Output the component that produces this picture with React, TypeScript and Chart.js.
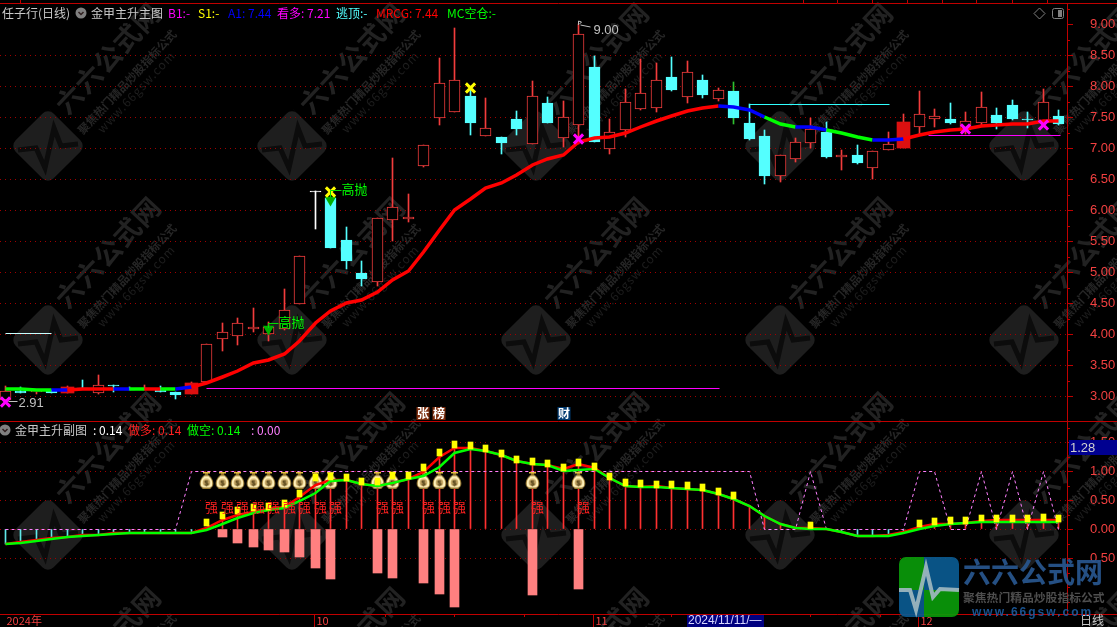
import React, { useEffect, useRef } from "react";
import { Chart, registerables } from "chart.js";

Chart.register(...registerables);

// ---- main pane data (index 0 .. 68) ----
const opens = [2.94,3.09,3.07,3.10,3.05,3.14,3.06,3.18,3.12,3.10,3.11,3.07,3.04,3.23,3.93,3.98,4.09,4.01,4.09,4.49,6.31,6.20,5.52,4.99,4.85,5.85,5.86,6.72,7.49,7.59,7.84,7.20,7.19,7.47,7.07,7.73,7.17,7.38,8.31,6.99,7.30,7.63,7.65,8.15,7.82,8.10,7.80,7.92,7.41,7.20,6.56,6.83,7.09,7.26,6.86,6.89,6.69,6.98,7.00,7.35,7.48,7.47,7.30,7.41,7.54,7.70,7.47,7.41,7.52];
const closes = [3.09,3.05,3.09,3.06,3.15,3.12,3.18,3.17,3.10,3.135,3.07,3.02,3.215,3.85,4.03,4.18,4.12,4.12,4.39,5.26,6.29,5.40,5.18,4.89,5.87,6.05,5.89,7.06,8.05,8.11,7.41,7.32,7.09,7.31,7.85,7.41,7.50,8.85,7.10,7.26,7.74,7.90,8.11,7.94,8.23,7.86,7.94,7.49,7.15,6.56,6.89,7.10,7.31,6.86,6.89,6.76,6.95,7.07,7.42,7.56,7.52,7.41,7.435,7.66,7.41,7.47,7.45,7.74,7.39];
const highs = [3.17,3.145,3.10,3.10,3.16,3.26,3.34,3.18,3.155,3.18,3.165,3.07,3.23,3.85,4.18,4.26,4.42,4.20,4.73,5.26,6.31,6.20,5.73,5.18,5.87,6.84,6.26,7.06,8.46,8.94,7.95,7.81,7.19,7.60,8.09,7.83,7.76,9.00,8.49,7.47,7.96,8.44,8.38,8.47,8.41,8.18,7.97,8.07,7.71,7.30,6.89,7.16,7.49,7.42,6.97,7.05,6.95,7.26,7.55,7.92,7.63,7.73,7.59,7.91,7.65,7.78,7.59,7.96,7.62];
const lows = [2.91,3.05,3.04,3.05,3.05,3.12,3.03,3.07,3.10,3.10,3.07,2.96,3.04,3.22,3.735,3.82,4.03,3.90,4.065,4.49,5.70,5.40,5.05,4.78,4.78,5.51,5.81,6.70,7.37,7.59,7.21,7.20,6.91,7.21,7.07,7.41,7.02,7.07,7.10,6.91,7.18,7.62,7.58,7.92,7.73,7.81,7.76,7.39,7.13,6.43,6.46,6.78,7.01,6.84,6.65,6.75,6.50,6.98,7.00,7.21,7.34,7.39,7.23,7.38,7.31,7.45,7.33,7.36,7.38];
const filledRedIdx = [4, 12, 58];
const whiteIdx = [20];
const greenWickIdx = [47];

const maValues = [3.12,3.115,3.11,3.11,3.11,3.115,3.12,3.12,3.125,3.125,3.12,3.12,3.15,3.21,3.31,3.41,3.53,3.585,3.69,3.89,4.19,4.38,4.50,4.55,4.69,4.875,5.02,5.33,5.68,6.00,6.19,6.355,6.445,6.565,6.73,6.82,6.90,7.11,7.16,7.18,7.25,7.35,7.445,7.52,7.61,7.65,7.68,7.665,7.62,7.50,7.40,7.35,7.35,7.29,7.24,7.19,7.13,7.135,7.15,7.22,7.26,7.295,7.31,7.355,7.37,7.39,7.39,7.44,7.435];
// colour key of the segment leaving each index: r red, g green, b blue
const maSegments = "gggbrrrbgrgbrrrrrrrrrrrrrrrrrrrrrrrrrrrrrrrrrrbbbggbbgggbbrrrrrrrrrrr";

const magentaLines = [{ from: 13, to: 46.1, value: 3.13 }, { from: 59.6, to: 68.1, value: 7.21 }];
const cyanLines = [{ from: 48, to: 57.05, value: 7.71 }];
const paleLines = [{ from: 0, to: 3, value: 4.016 }];
const magentaCrosses = [{ x: 0, y: 2.91 }, { x: 37, y: 7.15 }, { x: 62, y: 7.31 }, { x: 67, y: 7.38 }];
const yellowCrosses = [{ x: 21, y: 6.3 }, { x: 30, y: 7.97 }];
const greenArrows = [{ x: 17, y: 4.09 }, { x: 21, y: 6.17 }];
const highThrowLabels = [{ x: 17, y: 4.19, dx: 10, dy: 0, text: "高抛" }, { x: 21, y: 6.30, dx: 11, dy: -2, text: "高抛" }];
const priceTicks = [3, 3.5, 4, 4.5, 5, 5.5, 6, 6.5, 7, 7.5, 8, 8.5, 9];
const priceMinorTicks = [3.25, 3.75, 4.25, 4.75, 5.25, 5.75, 6.25, 6.75, 7.25, 7.75, 8.25, 8.75, 9.25];
const priceNoGrid = [9];

// ---- sub pane data ----
const longLine = [-0.245,-0.215,-0.18,-0.152,-0.125,-0.105,-0.09,-0.07,-0.06,-0.06,-0.06,-0.06,-0.06,0.02,0.16,0.245,0.305,0.345,0.38,0.55,0.76,0.85,0.85,0.78,0.75,0.79,0.86,0.995,1.24,1.40,1.40,1.35,1.275,1.17,1.125,1.10,1.045,1.12,1.06,0.88,0.75,0.735,0.74,0.72,0.70,0.68,0.60,0.53,0.41,0.23,0.09,0.02,0.015,0,-0.05,-0.11,-0.115,-0.105,-0.04,0.035,0.09,0.10,0.11,0.15,0.155,0.155,0.155,0.155,0.155];
const shortLine = [-0.26,-0.23,-0.195,-0.167,-0.138,-0.12,-0.10,-0.08,-0.063,-0.06,-0.06,-0.06,-0.06,-0.005,0.10,0.20,0.275,0.33,0.36,0.49,0.63,0.83,0.85,0.78,0.75,0.79,0.86,0.92,1.08,1.31,1.385,1.35,1.275,1.17,1.125,1.10,1.01,1.02,1.045,0.88,0.75,0.735,0.735,0.72,0.69,0.68,0.60,0.53,0.41,0.23,0.09,0.02,0.01,0,-0.05,-0.11,-0.115,-0.11,-0.07,0,0.06,0.10,0.11,0.126,0.126,0.13,0.13,0.13,0.13];
const dashedLine = [0,0,0,0,0,0,0,0,0,0,0,0,1,1,1,1,1,1,1,1,1,1,1,1,1,1,1,1,1,1,1,1,1,1,1,1,1,1,1,1,1,1,1,1,1,1,1,1,1,0,0,0,1,0,0,0,0,0,0,1,1,0,0,1,0,1,0,1,0];
const squareIdx = [13,14,15,16,17,18,19,20,21,22,23,24,25,26,27,28,29,30,31,32,33,34,35,36,37,38,39,40,41,42,43,44,45,46,47,52,59,60,61,62,63,64,65,66,67,68];
const squareValues = [0.12,0.24,0.33,0.37,0.40,0.45,0.62,0.89,0.91,0.90,0.83,0.83,0.92,0.92,1.06,1.32,1.47,1.44,1.40,1.31,1.21,1.17,1.14,1.06,1.155,1.09,0.91,0.81,0.79,0.78,0.776,0.75,0.72,0.655,0.585,0.07,0.10,0.13,0.155,0.155,0.195,0.19,0.18,0.18,0.205,0.19];
const salmonIdx = [14,15,16,17,18,19,20,21,24,25,27,28,29,34,37];
const salmonValues = [-0.13,-0.235,-0.305,-0.355,-0.39,-0.477,-0.667,-0.856,-0.753,-0.84,-0.925,-1.115,-1.34,-1.13,-1.03];
const bagIdx = [13,14,15,16,17,18,19,20,21,24,25,27,28,29,34,37];
const bagLevel = 0.845;
const strongLevel = 0.38;
const subTicks = [-0.5, 0, 0.5, 1, 1.5];
const subMinorTicks = [-1.25, -1, -0.75, -0.25, 0.25, 0.75, 1.25, 1.75];

// ---- x axis ----
const monthTickIdx = [0, 20, 38, 59];
const monthLabels = ["2024年", "10", "11", "12"];
const minorBottomTicks = [24.5, 29, 33.5, 43, 47.5, 52, 56.5, 64, 68];
const topTicks = [1, 51.5, 53.7, 56, 58.2, 60.5, 62.7, 65, 67.3];

// ---- header texts ----
const mainHeader = [
  { t: "任子行(日线)", x: 2, c: "#c8c8c8" },
  { t: "金甲主升主图", x: 91, c: "#c8c8c8" },
  { t: "B1:-", x: 168, c: "#ff00ff" },
  { t: "S1:-", x: 198, c: "#ffff00" },
  { t: "A1: 7.44", x: 228, c: "#0000ff" },
  { t: "看多: 7.21", x: 277, c: "#ff00ff" },
  { t: "逃顶:-", x: 336, c: "#54ffff" },
  { t: "MRCG: 7.44", x: 376, c: "#ff0000" },
  { t: "MC空仓:-", x: 447, c: "#00ff00" },
];
const subHeader = [
  { t: "金甲主升副图", x: 15, c: "#c8c8c8" },
  { t: ": 0.14", x: 93, c: "#ffffff" },
  { t: "做多: 0.14", x: 128, c: "#ff2020" },
  { t: "做空: 0.14", x: 187, c: "#00ff00" },
  { t: ": 0.00", x: 251, c: "#ff80ff" },
];

const CJK = '"Noto Sans CJK SC", "Noto Sans", sans-serif';
const NUM = '"Liberation Sans", sans-serif';
const RED = "#f23c3c";
const CYAN = "#54ffff";
const FRAME = "#c00000";

function diamond(ctx: CanvasRenderingContext2D, cx: number, cy: number, h: number, r: number) {
  ctx.beginPath();
  ctx.moveTo(cx, cy - h);
  ctx.arcTo(cx + h, cy, cx, cy + h, r);
  ctx.arcTo(cx, cy + h, cx - h, cy, r);
  ctx.arcTo(cx - h, cy, cx, cy - h, r);
  ctx.arcTo(cx, cy - h, cx + h, cy, r);
  ctx.closePath();
}

function rotatedText(ctx: CanvasRenderingContext2D, text: string, x: number, y: number, font: string, color: string, spacing: string) {
  ctx.save();
  ctx.translate(x, y);
  ctx.rotate(-Math.PI / 4 - 0.03);
  ctx.font = font;
  ctx.fillStyle = color;
  (ctx as any).letterSpacing = spacing;
  ctx.textAlign = "center";
  ctx.textBaseline = "middle";
  ctx.fillText(text, 0, 0);
  ctx.restore();
}

function makeBag(): HTMLCanvasElement {
  const c = document.createElement("canvas");
  c.width = 15;
  c.height = 17;
  const g = c.getContext("2d")!;
  g.fillStyle = "#e8c040";
  g.fillRect(4, 0, 7, 2);
  g.fillStyle = "#8a6a20";
  g.fillRect(6, 2, 3, 3);
  g.beginPath();
  g.moveTo(5.5, 4);
  g.lineTo(9.5, 4);
  g.bezierCurveTo(15, 8, 15.5, 16.5, 10, 16.5);
  g.lineTo(5, 16.5);
  g.bezierCurveTo(-0.5, 16.5, 0, 8, 5.5, 4);
  g.closePath();
  g.fillStyle = "#fff0b8";
  g.fill();
  g.strokeStyle = "#9a7a30";
  g.lineWidth = 1;
  g.stroke();
  g.beginPath();
  g.ellipse(7.5, 11, 3.8, 3.8, 0, 0, Math.PI * 2);
  g.fillStyle = "#c8aa68";
  g.fill();
  g.fillStyle = "#40300a";
  g.font = 'bold 8px "Liberation Sans"';
  g.textAlign = "center";
  g.textBaseline = "middle";
  g.fillText("$", 7.5, 11.3);
  return c;
}

const indices = opens.map((_, i) => i);
const isUp = (i: number) => closes[i] > opens[i];
const candleColor = (i: number) => (whiteIdx.includes(i) ? "#ffffff" : isUp(i) || filledRedIdx.includes(i) ? RED : CYAN);
const segmentColor = (i: number) => ({ r: "#ff0000", g: "#00ff00", b: "#0000ff" } as any)[maSegments[i]] || "#ff0000";

function levelDataset(items: { from: number; to: number; value: number }[], color: string) {
  return items.map((l) => ({
    type: "line",
    yAxisID: "yP",
    crisp: true,
    data: [{ x: l.from, y: l.value }, { x: l.to, y: l.value }],
    borderColor: color,
    borderWidth: 1,
    pointRadius: 0,
    order: 30,
  }));
}

export default function App() {
  const ref = useRef<HTMLCanvasElement>(null);
  useEffect(() => {
    document.body.style.margin = "0";
    document.body.style.background = "#000";
    const bag = makeBag();

    const decor = {
      id: "decor",
      beforeDatasetDraw(chart: any, args: any) {
        if (chart.data.datasets[args.index].crisp) {
          chart.ctx.save();
          chart.ctx.translate(0, 0.5);
        }
      },
      afterDatasetDraw(chart: any, args: any) {
        if (chart.data.datasets[args.index].crisp) chart.ctx.restore();
      },
      beforeDraw(chart: any) {
        const ctx: CanvasRenderingContext2D = chart.ctx;
        ctx.save();
        ctx.fillStyle = "#000";
        ctx.fillRect(0, 0, chart.width, chart.height);
        for (const cy of [146, 340, 535, 730]) {
          for (const cx of [48, 292, 536, 780, 1024]) {
            if (cy < 700) {
              ctx.fillStyle = "#1e1e1e";
              diamond(ctx, cx, cy, 38, 8);
              ctx.fill();
              ctx.strokeStyle = "#0c0c0c";
              ctx.lineWidth = 5;
              ctx.beginPath();
              ctx.moveTo(cx - 30, cy + 4);
              ctx.lineTo(cx - 12, cy + 2);
              ctx.lineTo(cx - 3, cy + 22);
              ctx.lineTo(cx + 6, cy - 18);
              ctx.lineTo(cx + 13, cy);
              ctx.lineTo(cx + 30, cy - 2);
              ctx.stroke();
            }
            rotatedText(ctx, "六六公式网", cx + 60, cy - 88, `bold 27px ${CJK}`, "#222222", "1px");
            rotatedText(ctx, "聚焦热门精品炒股指标公式", cx + 79, cy - 64, `bold 11.5px ${CJK}`, "#262626", "0px");
            rotatedText(ctx, "www.66gsw.com", cx + 88, cy - 54, `12px ${CJK}`, "#1e1e1e", "1px");
          }
        }
        ctx.restore();
      },
      afterDatasetsDraw(chart: any) {
        const ctx: CanvasRenderingContext2D = chart.ctx;
        const { x, yP, ySub } = chart.scales;
        ctx.save();
        ctx.textBaseline = "middle";
        // "强" marks
        ctx.font = `13px ${CJK}`;
        ctx.fillStyle = "#ff2020";
        ctx.textAlign = "center";
        for (const i of bagIdx) ctx.fillText("强", x.getPixelForValue(i) + 5, ySub.getPixelForValue(strongLevel));
        // arrows' stems and callouts
        ctx.textAlign = "left";
        for (const l of highThrowLabels) {
          const px = x.getPixelForValue(l.x);
          const py = yP.getPixelForValue(l.y);
          ctx.strokeStyle = "#00e000";
          ctx.lineWidth = 1;
          ctx.beginPath();
          ctx.moveTo(px, py + 5);
          ctx.lineTo(px, py + l.dy + 0.5);
          ctx.lineTo(px + l.dx, py + l.dy + 0.5);
          ctx.stroke();
          ctx.font = `13px ${CJK}`;
          ctx.fillStyle = "#00ff00";
          ctx.fillText(l.text, px + l.dx, py + l.dy - 1);
        }
        // extreme value labels
        ctx.fillStyle = "#c0c0c0";
        ctx.strokeStyle = "#c0c0c0";
        ctx.font = `13px ${NUM}`;
        ctx.lineWidth = 1;
        const lowX = x.getPixelForValue(0);
        const lowY = yP.getPixelForValue(Math.min(...lows));
        ctx.beginPath();
        ctx.moveTo(lowX + 3, lowY - 0.5);
        ctx.lineTo(lowX + 12, lowY - 0.5);
        ctx.stroke();
        ctx.fillText(Math.min(...lows).toFixed(2), lowX + 13, lowY + 1);
        const hiI = highs.indexOf(Math.max(...highs));
        const hiX = x.getPixelForValue(hiI);
        const hiY = yP.getPixelForValue(Math.max(...highs));
        ctx.beginPath();
        ctx.moveTo(hiX, hiY + 1);
        ctx.lineTo(hiX, hiY - 3);
        ctx.lineTo(hiX + 3, hiY - 2);
        ctx.lineTo(hiX + 1, hiY);
        ctx.moveTo(hiX + 2, hiY + 1);
        ctx.lineTo(hiX + 12, hiY + 3);
        ctx.stroke();
        ctx.fillText(Math.max(...highs).toFixed(2), hiX + 15, hiY + 6);
        ctx.restore();
      },
      afterDraw(chart: any) {
        const ctx: CanvasRenderingContext2D = chart.ctx;
        const { x, yP, ySub } = chart.scales;
        const right = chart.chartArea.right;
        const W = chart.width;
        const ps = (v: number) => Math.round(v) + 0.5;
        ctx.save();
        // frame
        ctx.strokeStyle = FRAME;
        ctx.lineWidth = 1;
        ctx.beginPath();
        for (const y of [3, 421, 614]) {
          ctx.moveTo(0, ps(y));
          ctx.lineTo(W, ps(y));
        }
        for (const v of priceTicks) {
          ctx.moveTo(right, ps(yP.getPixelForValue(v)));
          ctx.lineTo(right + 6, ps(yP.getPixelForValue(v)));
        }
        for (const v of priceMinorTicks) {
          ctx.moveTo(right, ps(yP.getPixelForValue(v)));
          ctx.lineTo(right + 3, ps(yP.getPixelForValue(v)));
        }
        for (const v of subTicks) {
          ctx.moveTo(right, ps(ySub.getPixelForValue(v)));
          ctx.lineTo(right + 6, ps(ySub.getPixelForValue(v)));
        }
        for (const v of subMinorTicks) {
          ctx.moveTo(right, ps(ySub.getPixelForValue(v)));
          ctx.lineTo(right + 3, ps(ySub.getPixelForValue(v)));
        }
        for (const i of topTicks) {
          const p = x.getPixelForValue(i);
          ctx.moveTo(p, 0);
          ctx.lineTo(p, 3);
        }
        for (const i of monthTickIdx.slice(1)) {
          const p = x.getPixelForValue(i) - 1;
          ctx.moveTo(p, 614);
          ctx.lineTo(p, 627);
        }
        for (const i of minorBottomTicks) {
          const p = x.getPixelForValue(i);
          ctx.moveTo(p, 614);
          ctx.lineTo(p, 617);
        }
        ctx.stroke();

        ctx.textBaseline = "middle";
        ctx.textAlign = "left";
        // headers
        ctx.font = `12px ${CJK}`;
        for (const h of mainHeader) {
          ctx.fillStyle = h.c;
          ctx.fillText(h.t, h.x, 13);
        }
        for (const h of subHeader) {
          ctx.fillStyle = h.c;
          ctx.fillText(h.t, h.x, 430);
        }
        for (const [gx, gy] of [[81, 13], [5, 430]]) {
          ctx.fillStyle = "#808080";
          ctx.beginPath();
          ctx.arc(gx, gy, 5.5, 0, Math.PI * 2);
          ctx.fill();
          ctx.strokeStyle = "#302020";
          ctx.lineWidth = 1.5;
          ctx.beginPath();
          ctx.moveTo(gx - 2.5, gy - 1);
          ctx.lineTo(gx, gy + 1.5);
          ctx.lineTo(gx + 2.5, gy - 1);
          ctx.stroke();
        }
        // top-right icons
        ctx.strokeStyle = "#808080";
        ctx.lineWidth = 1;
        ctx.beginPath();
        ctx.moveTo(1039.5, 8);
        ctx.lineTo(1045, 13.5);
        ctx.lineTo(1039.5, 19);
        ctx.lineTo(1034, 13.5);
        ctx.closePath();
        ctx.stroke();
        ctx.beginPath();
        (ctx as any).roundRect(1052.5, 8.5, 11, 10, 2);
        ctx.stroke();
        ctx.fillStyle = "#808080";
        ctx.fillRect(1058, 10, 4, 7);
        // event tags
        ctx.font = `bold 12px ${CJK}`;
        ctx.textAlign = "center";
        for (const [i, t] of [[27, "张"], [28, "榜"]] as [number, string][]) {
          const p = x.getPixelForValue(i);
          ctx.fillStyle = "#7a2a0a";
          ctx.fillRect(p - 7, 407, 13, 13);
          ctx.fillStyle = "#ffffff";
          ctx.fillText(t, p - 0.5, 413);
        }
        const caiX = x.getPixelForValue(36);
        ctx.fillStyle = "#003a70";
        ctx.fillRect(caiX - 6, 407, 13, 13);
        ctx.fillStyle = "#ffffff";
        ctx.fillText("财", caiX + 0.5, 413);
        // bottom status
        ctx.fillStyle = "#000080";
        ctx.fillRect(687, 615, 77, 12);
        ctx.textAlign = "left";
        ctx.font = `12px ${NUM}`;
        ctx.fillStyle = "#d8d8ff";
        ctx.fillText("2024/11/11/—", 688, 621);
        ctx.font = `12px ${CJK}`;
        ctx.fillStyle = "#c8c8c8";
        ctx.fillText("日线", 1080, 620);
        // cursor price box
        ctx.fillStyle = "#000090";
        ctx.fillRect(1069, 440, 48, 15);
        ctx.font = `13px ${NUM}`;
        ctx.fillStyle = "#d0d0d0";
        ctx.fillText("1.28", 1070, 448);
        // site logo
        ctx.globalAlpha = 0.92;
        ctx.beginPath();
        (ctx as any).roundRect(899, 557, 60, 60, 7);
        ctx.save();
        ctx.clip();
        ctx.fillStyle = "#0a9a0a";
        ctx.fillRect(899, 557, 25, 33);
        ctx.fillRect(924, 590, 35, 27);
        ctx.fillStyle = "#0a5a90";
        ctx.fillRect(924, 557, 35, 33);
        ctx.fillRect(899, 590, 25, 27);
        ctx.restore();
        ctx.strokeStyle = "#9fb8c0";
        ctx.lineWidth = 4;
        ctx.beginPath();
        ctx.moveTo(899, 590);
        ctx.lineTo(910, 590);
        ctx.lineTo(916, 610);
        ctx.lineTo(926, 567);
        ctx.lineTo(933, 597);
        ctx.lineTo(940, 589);
        ctx.lineTo(959, 590);
        ctx.stroke();
        ctx.textAlign = "left";
        ctx.font = `bold 28px ${CJK}`;
        ctx.fillStyle = "#28578f";
        ctx.fillText("六六公式网", 963, 572);
        ctx.font = `bold 11.8px ${CJK}`;
        ctx.fillStyle = "#555555";
        ctx.fillText("聚焦热门精品炒股指标公式", 963, 598);
        ctx.font = `bold 12px "Liberation Sans"`;
        ctx.fillStyle = "#1c5a9c";
        (ctx as any).letterSpacing = "2px";
        ctx.fillText("www.66gsw.com", 972, 613);
        ctx.restore();
      },
    };

    const barBase = { type: "bar", grouped: false, borderSkipped: false };
    const datasets: any[] = [
      {
        ...barBase,
        yAxisID: "yP",
        data: indices.map((i) => ({ x: i, y: [lows[i], highs[i]] })),
        backgroundColor: indices.map((i) => (greenWickIdx.includes(i) ? "#30c030" : candleColor(i))),
        barThickness: 1,
        order: 50,
      },
      {
        ...barBase,
        yAxisID: "yP",
        data: indices.filter((i) => !filledRedIdx.includes(i)).map((i) => ({ x: i, y: [opens[i], closes[i]] })),
        backgroundColor: indices
          .filter((i) => !filledRedIdx.includes(i))
          .map((i) => (whiteIdx.includes(i) ? "#ffffff" : isUp(i) ? "#000000" : CYAN)),
        borderColor: indices.filter((i) => !filledRedIdx.includes(i)).map(candleColor),
        borderWidth: 1,
        barThickness: 11,
        order: 40,
      },
      {
        ...barBase,
        yAxisID: "yP",
        data: filledRedIdx.map((i) => ({ x: i, y: [opens[i], closes[i]] })),
        backgroundColor: "#dc1010",
        barThickness: 13,
        order: 40,
      },
      ...levelDataset(magentaLines, "#ff00ff"),
      ...levelDataset(cyanLines, "#30ffff"),
      ...levelDataset(paleLines, "#c8ffff"),
      {
        type: "line",
        yAxisID: "yP",
        data: indices.map((i) => ({ x: i, y: maValues[i] })),
        borderWidth: 3.5,
        borderColor: "#ff0000",
        pointRadius: 0,
        segment: { borderColor: (c: any) => segmentColor(c.p0DataIndex) },
        order: 20,
      },
      {
        type: "line",
        yAxisID: "yP",
        showLine: false,
        data: magentaCrosses,
        pointStyle: "crossRot",
        pointRadius: 6.5,
        pointBorderWidth: 3,
        pointBorderColor: "#ff00ff",
        order: 10,
      },
      {
        type: "line",
        yAxisID: "yP",
        showLine: false,
        data: yellowCrosses,
        pointStyle: "crossRot",
        pointRadius: 6.5,
        pointBorderWidth: 3,
        pointBorderColor: "#ffff00",
        order: 9,
      },
      {
        type: "line",
        yAxisID: "yP",
        showLine: false,
        data: greenArrows,
        pointStyle: "triangle",
        pointRotation: 180,
        pointRadius: 6.5,
        pointBorderWidth: 0,
        pointBackgroundColor: "#00b000",
        order: 10,
      },
      // sub pane
      {
        ...barBase,
        yAxisID: "ySub",
        data: salmonIdx.map((i, k) => ({ x: i, y: [0, salmonValues[k]] })),
        backgroundColor: "#ff8080",
        barThickness: 9,
        order: 50,
      },
      {
        ...barBase,
        yAxisID: "ySub",
        data: indices.map((i) => ({ x: i, y: [0, longLine[i]] })),
        backgroundColor: indices.map((i) => (longLine[i] < 0 ? "#60e8e8" : "#ff3030")),
        barThickness: 1,
        order: 45,
      },
      {
        type: "line",
        yAxisID: "ySub",
        crisp: true,
        data: indices.map((i) => ({ x: i, y: dashedLine[i] })),
        borderColor: "#ff80ff",
        borderWidth: 1,
        borderDash: [3, 3],
        pointRadius: 0,
        order: 35,
      },
      {
        type: "line",
        yAxisID: "ySub",
        showLine: false,
        data: bagIdx.map((i) => ({ x: i, y: bagLevel })),
        pointStyle: bag,
        order: 30,
      },
      {
        type: "line",
        yAxisID: "ySub",
        data: indices.map((i) => ({ x: i, y: longLine[i] })),
        borderColor: "#ff0000",
        borderWidth: 2.5,
        pointRadius: 0,
        order: 21,
      },
      {
        type: "line",
        yAxisID: "ySub",
        data: indices.map((i) => ({ x: i, y: shortLine[i] })),
        borderColor: "#00ff00",
        borderWidth: 2.5,
        pointRadius: 0,
        order: 20,
      },
      {
        ...barBase,
        yAxisID: "ySub",
        data: squareIdx.map((i, k) => ({ x: i, y: [squareValues[k] - 0.06, squareValues[k] + 0.06] })),
        backgroundColor: "#ffff00",
        barThickness: 5,
        order: 5,
      },
    ];

    const roundY = (s: any) => {
      const orig = Object.getPrototypeOf(s).getPixelForValue.bind(s);
      s.getPixelForValue = (v: number) => Math.round(orig(v));
    };
    const yScale = (min: number, max: number, ticks: number[], weight: number, stackWeight: number, hidden: number[]) => ({
      type: "linear",
      position: "right",
      stack: "panes",
      weight,
      stackWeight,
      min,
      max,
      offset: false,
      grace: 0,
      beginAtZero: false,
      border: { display: true, color: FRAME, dash: [1, 4] },
      grid: {
        drawTicks: false,
        lineWidth: 1,
        color: (c: any) => (c.tick && hidden.includes(c.tick.value) ? "rgba(0,0,0,0)" : "#a00000"),
      },
      ticks: {
        padding: 23,
        color: "#f24040",
        autoSkip: false,
        font: { family: NUM, size: 13 },
        callback: (v: number) => Math.abs(v).toFixed(2),
      },
      afterBuildTicks: (s: any) => {
        s.ticks = ticks.map((value) => ({ value }));
      },
      afterDataLimits: (s: any) => {
        s.min = min;
        s.max = max;
        roundY(s);
      },
      afterFit: (s: any) => {
        s.width = 50;
        s.paddingTop = 0;
        s.paddingBottom = 0;
      },
    });

    const chart = new Chart(ref.current!, {
      type: "bar",
      data: { datasets },
      plugins: [decor],
      options: {
        responsive: false,
        animation: false,
        devicePixelRatio: 1,
        layout: { autoPadding: false, padding: { top: 3, left: 0, right: 0, bottom: 0 } },
        plugins: { legend: { display: false }, tooltip: { enabled: false }, title: { display: false } },
        scales: {
          x: {
            type: "linear",
            position: "bottom",
            offset: false,
            min: -0.323,
            max: 68.56,
            border: { display: false },
            grid: { display: false, drawTicks: false },
            ticks: {
              align: "start",
              maxRotation: 0,
              autoSkip: false,
              padding: 0,
              labelOffset: 1,
              color: "#f24040",
              font: { family: CJK, size: 11 },
              callback: (v: number) => {
                const k = monthTickIdx.indexOf(v);
                return k >= 0 ? monthLabels[k] : "";
              },
            },
            afterBuildTicks: (s: any) => {
              s.ticks = monthTickIdx.map((value) => ({ value }));
            },
            afterDataLimits: (s: any) => {
              const orig = Object.getPrototypeOf(s).getPixelForValue.bind(s);
              s.getPixelForValue = (v: number) => Math.round(orig(v)) + 0.5;
            },
            afterFit: (s: any) => {
              s.height = 13;
              s.paddingLeft = 0;
              s.paddingRight = 0;
            },
          },
          yP: yScale(2.602, 9.344, priceTicks, 0, 418, priceNoGrid),
          ySub: yScale(-1.46, 1.867, subTicks, 1, 193, []),
        } as any,
      } as any,
    } as any);
    return () => chart.destroy();
  }, []);
  return <canvas ref={ref} width={1117} height={627} style={{ display: "block" }} />;
}
